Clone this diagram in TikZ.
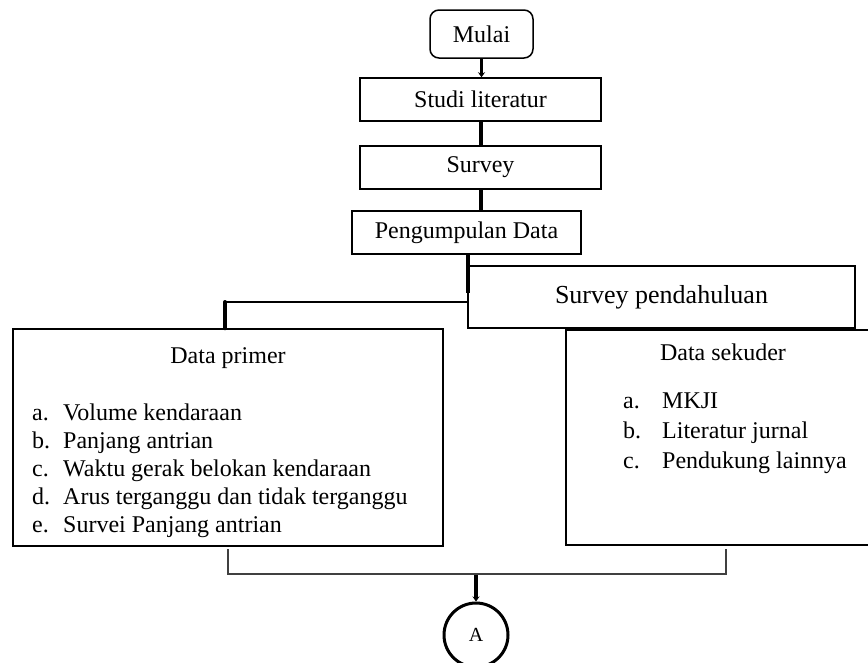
\documentclass[tikz,border=0pt]{standalone}
\usepackage{fontspec}
\setmainfont{Liberation Serif}
\usetikzlibrary{arrows.meta}
\begin{document}
\begin{tikzpicture}[x=1pt,y=-1pt,
  box/.style={draw=black,line width=1.5pt,rectangle,inner sep=0pt,font=\fontsize{24}{28}\selectfont},
  thickc/.style={line width=4pt,black},
  thinc/.style={line width=1.2pt,black!75},
  txt/.style={inner sep=0pt,font=\fontsize{24}{28}\selectfont},
  tip/.style={-{Stealth[length=5pt,width=7pt]}}]
\useasboundingbox (0,0) rectangle (868,662);
\fill[white] (0,0) rectangle (868,662);
% boxes
\node[box,rounded corners=9pt,minimum width=103pt,minimum height=48pt] (mulai) at (481.5,34) {Mulai};
\node[box,minimum width=241pt,minimum height=43pt] (studi) at (480.5,99.5) {Studi literatur};
\node[box,minimum width=241pt,minimum height=43pt] (survey) at (480.5,167.5) {Survey};
\node[box,minimum width=229pt,minimum height=43pt] (peng) at (466.5,232.5) {Pengumpulan Data};
\node[box,minimum width=314pt,minimum height=215pt] (ds) at (723,437.5) {};
\node[box,fill=white,minimum width=387pt,minimum height=62pt,font=\fontsize{26}{30}\selectfont] (sp) at (661.5,297) {Survey pendahuluan};
\node[box,minimum width=430pt,minimum height=217pt] (dp) at (228,437.5) {};
\node[draw=black,line width=3pt,circle,minimum size=64pt,inner sep=0pt,font=\fontsize{20}{24}\selectfont] (a) at (476,635) {A};
% Data primer text
\node[txt,anchor=base] (dpt) at (228,363) {Data primer};
\node[txt,anchor=base west] (dpa) at (32,420) {a.};
\node[txt,anchor=base west] (dpb) at (32,448) {b.};
\node[txt,anchor=base west] (dpc) at (32,476) {c.};
\node[txt,anchor=base west] (dpd) at (32,504) {d.};
\node[txt,anchor=base west] (dpe) at (32,532) {e.};
\node[txt,anchor=base west] (dpa2) at (63,420) {Volume kendaraan};
\node[txt,anchor=base west] (dpb2) at (63,448) {Panjang antrian};
\node[txt,anchor=base west] (dpc2) at (63,476) {Waktu gerak belokan kendaraan};
\node[txt,anchor=base west] (dpd2) at (63,504) {Arus terganggu dan tidak terganggu};
\node[txt,anchor=base west] (dpe2) at (63,532) {Survei Panjang antrian};
% Data sekuder text
\node[txt,anchor=base] (dst) at (723,360) {Data sekuder};
\node[txt,anchor=base west] (dsa) at (623,408) {a.};
\node[txt,anchor=base west] (dsb) at (623,438) {b.};
\node[txt,anchor=base west] (dsc) at (623,468) {c.};
\node[txt,anchor=base west] (dsa2) at (662,408) {MKJI};
\node[txt,anchor=base west] (dsb2) at (662,438) {Literatur jurnal};
\node[txt,anchor=base west] (dsc2) at (662,468) {Pendukung lainnya};
% connectors
\draw[thickc,line width=3pt,tip] (mulai.south) -- (mulai.south |- studi.north);
\draw[thickc] (studi.south) -- (survey.north);
\draw[thickc] (survey.south) -- (survey.south |- peng.north);
\coordinate (j0) at (468,293);
\coordinate (j1) at (468,302);
\coordinate (j2) at (225,302);
\draw[thickc] (peng.south -| j0) -- (j0);
\draw[line width=1.5pt] (j1) -- (j2);
\draw[thickc,line cap=round] (j2) -- (j2 |- dp.north);
\coordinate (b1) at (228,549);
\coordinate (b2) at (228,574);
\coordinate (b3) at (726,574);
\coordinate (b4) at (726,549);
\draw[thinc] (b1) -- (b2) -- (b3) -- (b4);
\coordinate (b5) at (476,575);
\draw[thickc,tip] (b5) -- (a.north);
\end{tikzpicture}
\end{document}
